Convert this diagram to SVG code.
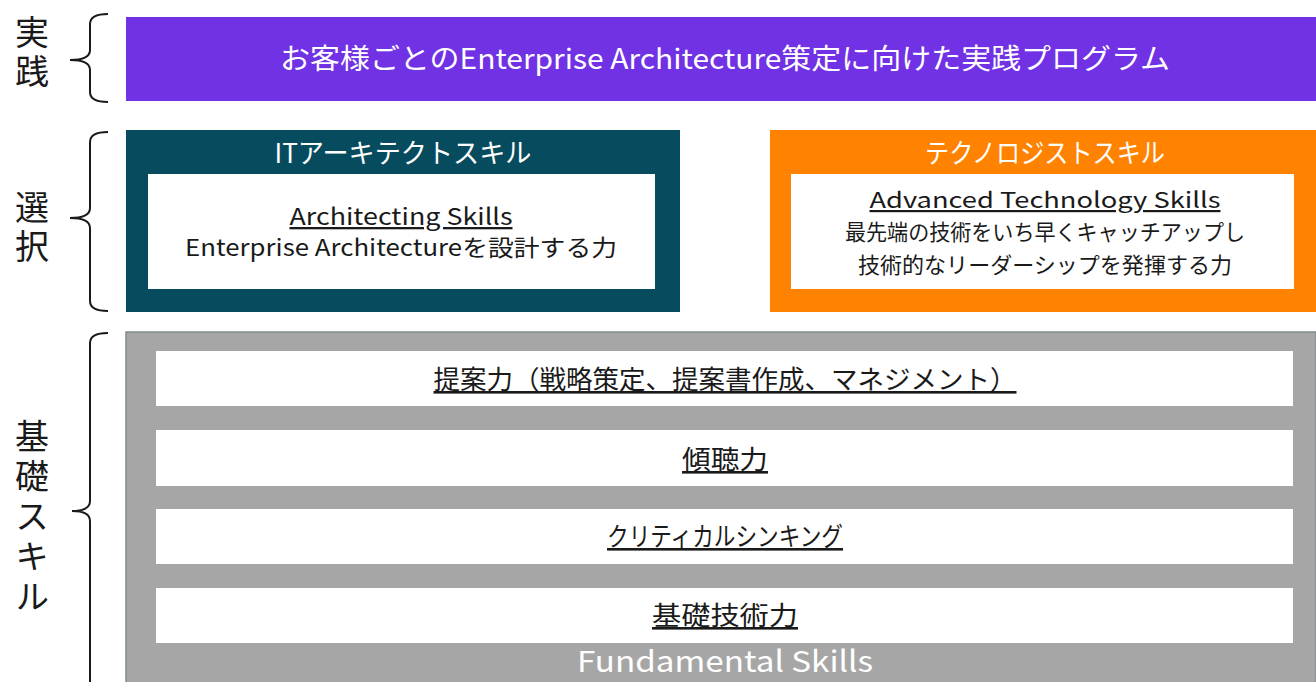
<svg xmlns="http://www.w3.org/2000/svg" width="1316" height="682" viewBox="0 0 1316 682">
<style>
  text { font-family: "Noto Sans CJK JP", "Noto Sans", sans-serif; }
  .lbl { font-size: 34px; fill: #1a1a1a; writing-mode: vertical-rl; letter-spacing: 5px; }
  .brace { fill: none; stroke: #1a1a1a; stroke-width: 2; }
  .title { font-size: 27px; fill: #ffffff; text-anchor: middle; }
  .body { font-size: 23px; fill: #1a1a1a; text-anchor: middle; }
  .tb { font-size: 22px; }
  .fund { font-size: 26px; fill: #1a1a1a; text-anchor: middle; }
  .ul { text-decoration: underline; }
  .inner { fill: #ffffff; }
</style>
<rect width="1316" height="682" fill="#ffffff"/>

<g id="labels">
  <text class="lbl" x="32" y="15">実践</text>
  <text class="lbl" x="32" y="190">選択</text>
  <text class="lbl" x="32" y="419" style="letter-spacing:6px">基礎スキル</text>
</g>

<g id="connectors">
  <path class="brace" d="M108,14 Q90,14 90,24 L90,50 Q90,60 70,60 Q90,60 90,70 L90,92 Q90,102 108,102"/>
  <path class="brace" d="M108,132 Q90,132 90,142 L90,208 Q90,218 70,218 Q90,218 90,228 L90,301 Q90,311 108,311"/>
  <path class="brace" d="M108,333 Q90,333 90,343 L90,501 Q90,511 72,511 Q90,511 90,521 L90,690"/>
</g>

<g id="practice">
  <rect x="126" y="17" width="1190" height="84" fill="#7131E4"/>
  <text class="title" x="725" y="69" style="font-size:28px" textLength="890" lengthAdjust="spacingAndGlyphs">お客様ごとのEnterprise Architecture策定に向けた実践プログラム</text>
</g>

<g id="it-architect">
  <rect x="126" y="130" width="554" height="182" fill="#064C5E"/>
  <text class="title" x="403" y="163" textLength="257" lengthAdjust="spacingAndGlyphs">ITアーキテクトスキル</text>
  <rect class="inner" x="148" y="174" width="507" height="115"/>
  <text class="body ul" x="401" y="225" textLength="223" lengthAdjust="spacingAndGlyphs">Architecting Skills</text>
  <text class="body" x="401" y="256" textLength="432" lengthAdjust="spacingAndGlyphs">Enterprise Architectureを設計する力</text>
</g>

<g id="technologist">
  <rect x="770" y="130" width="546" height="182" fill="#FF8200"/>
  <text class="title" x="1045" y="163" textLength="240" lengthAdjust="spacingAndGlyphs">テクノロジストスキル</text>
  <rect class="inner" x="791" y="174" width="503" height="115"/>
  <text class="body tb ul" x="1045" y="208" textLength="351" lengthAdjust="spacingAndGlyphs">Advanced Technology Skills</text>
  <text class="body tb" x="1045" y="240" textLength="400" lengthAdjust="spacingAndGlyphs">最先端の技術をいち早くキャッチアップし</text>
  <text class="body tb" x="1045" y="273" textLength="374" lengthAdjust="spacingAndGlyphs">技術的なリーダーシップを発揮する力</text>
</g>

<g id="fundamental">
  <rect x="126" y="332" width="1190" height="352" fill="#A6A6A6" stroke="#7f8c8c" stroke-width="1.5"/>
  <rect class="inner" x="156" y="351" width="1137" height="55"/>
  <text class="fund ul" x="725" y="389" textLength="583" lengthAdjust="spacingAndGlyphs">提案力（戦略策定、提案書作成、マネジメント）</text>
  <rect class="inner" x="156" y="430" width="1137" height="56"/>
  <text class="fund ul" x="725" y="469" textLength="86" lengthAdjust="spacingAndGlyphs">傾聴力</text>
  <rect class="inner" x="156" y="509" width="1137" height="55"/>
  <text class="fund ul" x="725" y="546" textLength="236" lengthAdjust="spacingAndGlyphs">クリティカルシンキング</text>
  <rect class="inner" x="156" y="588" width="1137" height="55"/>
  <text class="fund ul" x="725" y="625" textLength="146" lengthAdjust="spacingAndGlyphs">基礎技術力</text>
  <text class="title" x="725" y="672" style="font-size:29px" textLength="296" lengthAdjust="spacingAndGlyphs">Fundamental Skills</text>
</g>
</svg>
